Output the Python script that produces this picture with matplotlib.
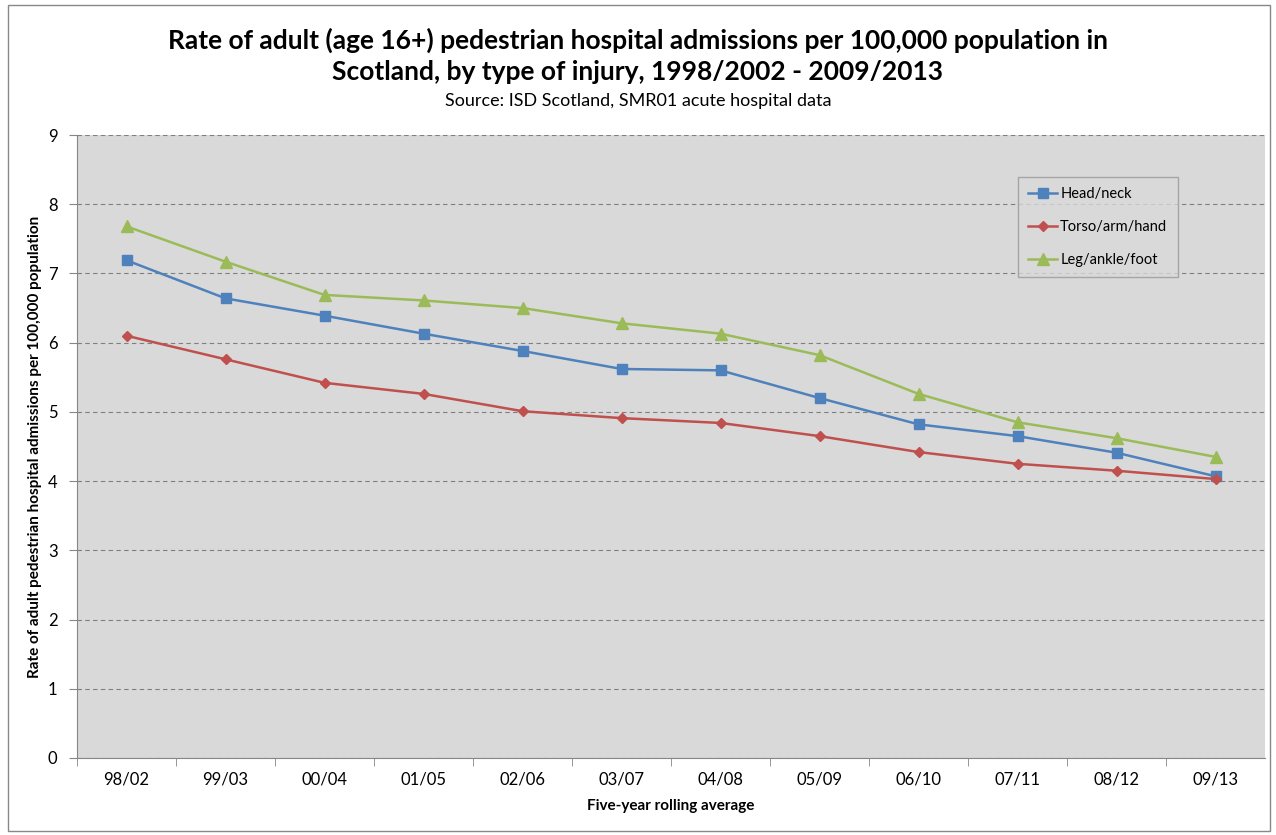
"""
Adult pedestrian hospital admissions in Scotland by injury type,
five-year rolling averages. Saves out.png.
"""

import matplotlib.pyplot as plt
from matplotlib.patches import Rectangle


PERIODS = ["98/02", "99/03", "00/04", "01/05", "02/06", "03/07",
           "04/08", "05/09", "06/10", "07/11", "08/12", "09/13"]

HEAD_NECK = [7.19, 6.64, 6.39, 6.13, 5.88, 5.62, 5.60, 5.20, 4.82, 4.65, 4.41, 4.07]
TORSO_ARM_HAND = [6.10, 5.76, 5.42, 5.26, 5.01, 4.91, 4.84, 4.65, 4.42, 4.25, 4.15, 4.03]
LEG_ANKLE_FOOT = [7.68, 7.17, 6.69, 6.61, 6.50, 6.28, 6.13, 5.82, 5.26, 4.85, 4.62, 4.35]

SERIES = [
    ("Head/neck", HEAD_NECK, "#4F81BD", "s", 7),
    ("Torso/arm/hand", TORSO_ARM_HAND, "#C0504D", "D", 5.5),
    ("Leg/ankle/foot", LEG_ANKLE_FOOT, "#9BBB59", "^", 8),
]

plt.rcParams["font.family"] = ["Lato", "DejaVu Sans"]


def main() -> None:
    fig = plt.figure(figsize=(12.76, 8.35), dpi=100)
    ax = fig.add_axes([77 / 1276, 1 - 758 / 835, 1188 / 1276, 623 / 835])

    # thin frame round the whole chart
    fig.patches.append(Rectangle((8 / 1276, 4 / 835), 1262 / 1276, 826 / 835,
                                 transform=fig.transFigure, fill=False,
                                 edgecolor="#888888", linewidth=1))

    ax.set_facecolor("#D9D9D9")
    x = list(range(len(PERIODS)))

    for label, values, color, marker, size in SERIES:
        ax.plot(x, values, color=color, linewidth=1.8, marker=marker,
                markersize=size, label=label)

    ax.set_xlim(-0.5, len(PERIODS) - 0.5)
    ax.set_ylim(0, 9)
    ax.set_yticks(range(0, 10))
    ax.yaxis.grid(True, linestyle=(0, (4, 3)), color="#7F7F7F", linewidth=0.8)
    ax.set_axisbelow(True)

    ax.set_xticks(x)
    ax.set_xticklabels(PERIODS)
    ax.set_xticks([i + 0.5 for i in x[:-1]] + [-0.5], minor=True)
    ax.tick_params(axis="x", which="major", length=0, pad=10, labelsize=12)
    ax.tick_params(axis="x", which="minor", length=6, color="#868686")
    ax.tick_params(axis="y", length=6, color="#868686", labelsize=12, pad=8)

    for side in ("top", "right"):
        ax.spines[side].set_visible(False)
    for side in ("left", "bottom"):
        ax.spines[side].set_color("#868686")

    ax.set_xlabel("Five-year rolling average", fontsize=11, fontweight="bold",
                  labelpad=8)
    ax.set_ylabel("Rate of adult pedestrian hospital admissions per 100,000 population",
                  fontsize=11, fontweight="bold", labelpad=4)

    fig.text(0.5, 0.952, "Rate of adult (age 16+) pedestrian hospital admissions per 100,000 population in",
             ha="center", va="center", fontsize=19, fontweight="bold")
    fig.text(0.5, 0.914, "Scotland, by type of injury, 1998/2002 - 2009/2013",
             ha="center", va="center", fontsize=19, fontweight="bold")
    fig.text(0.5, 0.879, "Source: ISD Scotland, SMR01 acute hospital data",
             ha="center", va="center", fontsize=13)

    legend = ax.legend(loc="upper left", bbox_to_anchor=(0.792, 0.933),
                       fontsize=10.5, frameon=True, fancybox=False,
                       handlelength=2.0, labelspacing=1.3, borderpad=0.7,
                       handletextpad=0.2, borderaxespad=0)
    legend.get_frame().set_facecolor("#D9D9D9")
    legend.get_frame().set_edgecolor("#999999")

    fig.savefig("out.png", dpi=100)
    plt.close(fig)


if __name__ == "__main__":
    main()
